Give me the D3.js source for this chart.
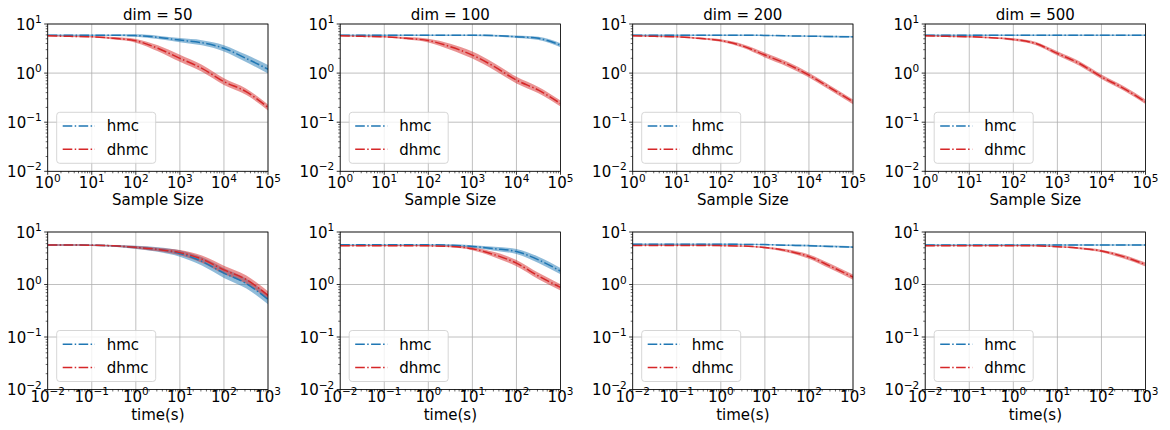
<!DOCTYPE html>
<html><head><meta charset="utf-8">
<script src="https://cdn.jsdelivr.net/npm/d3@7"></script>
<style>body{margin:0;background:#fff}svg{display:block}text{font-family:"DejaVu Sans",sans-serif;fill:#000}</style>
</head><body><svg id="c" width="1170" height="430"></svg>
<script>
// ---- data ----
const sampleSizes = [1, 3.162, 10, 31.62, 100, 316.2, 1000, 3162, 10000, 31623, 100000];
const times = [0.01, 0.03162, 0.1, 0.3162, 1, 3.162, 10, 31.62, 100, 316.2, 1000];
const dimTitles = ["dim = 50", "dim = 100", "dim = 200", "dim = 500"];
const seriesNames = ["hmc", "dhmc"];
const xTickExpTop = ["0", "1", "2", "3", "4", "5"];
const xTickExpBottom = ["\u22122", "\u22121", "0", "1", "2", "3"];
const yTickExp = ["\u22122", "\u22121", "0", "1"];

// error vs sample size (top row)
const hmcSample50   = [5.9, 5.9, 5.9, 5.9, 5.8, 5.35, 4.7, 4.15, 3.2, 2.0, 1.2];
const dhmcSample50  = [5.75, 5.6, 5.5, 5.1, 4.55, 3.2, 2.0, 1.25, 0.67, 0.42, 0.2];
const hmcSample100  = [5.9, 5.9, 5.9, 5.9, 5.9, 5.9, 5.9, 5.8, 5.5, 5.1, 3.7];
const dhmcSample100 = [5.75, 5.6, 5.5, 5.1, 4.6, 3.45, 2.33, 1.35, 0.72, 0.45, 0.24];
const hmcSample200  = [5.9, 5.9, 5.9, 5.9, 5.9, 5.9, 5.85, 5.75, 5.65, 5.55, 5.5];
const dhmcSample200 = [5.75, 5.6, 5.5, 5.1, 4.6, 3.56, 2.33, 1.53, 0.91, 0.49, 0.26];
const hmcSample500  = [5.9, 5.9, 5.9, 5.9, 5.9, 5.9, 5.9, 5.9, 5.9, 5.9, 5.9];
const dhmcSample500 = [5.75, 5.6, 5.5, 5.25, 4.86, 4.03, 2.52, 1.57, 0.84, 0.49, 0.26];
// error vs time (bottom row)
const hmcTime50   = [5.65, 5.65, 5.6, 5.45, 5.1, 4.65, 3.9, 2.75, 1.65, 1.05, 0.52];
const dhmcTime50  = [5.65, 5.65, 5.6, 5.45, 5.1, 4.65, 4.05, 3.05, 1.9, 1.25, 0.62];
const hmcTime100  = [5.7, 5.7, 5.7, 5.7, 5.7, 5.6, 5.3, 4.8, 4.25, 2.95, 1.8];
const dhmcTime100 = [5.5, 5.5, 5.5, 5.5, 5.45, 5.3, 4.8, 3.7, 2.55, 1.45, 0.88];
const hmcTime200  = [5.85, 5.85, 5.85, 5.85, 5.85, 5.8, 5.75, 5.6, 5.5, 5.3, 5.15];
const dhmcTime200 = [5.55, 5.55, 5.55, 5.55, 5.5, 5.4, 5.05, 4.4, 3.4, 2.2, 1.38];
const hmcTime500  = [5.65, 5.65, 5.65, 5.65, 5.65, 5.65, 5.65, 5.65, 5.65, 5.65, 5.65];
const dhmcTime500 = [5.5, 5.5, 5.5, 5.5, 5.5, 5.45, 5.25, 4.9, 4.35, 3.4, 2.4];

// relative half-width of the shaded spread
const spreadHmcSample50   = [0.03, 0.03, 0.03, 0.04, 0.06, 0.08, 0.1, 0.13, 0.16, 0.19, 0.22];
const spreadDhmcSample50  = [0.03, 0.03, 0.04, 0.06, 0.09, 0.15, 0.18, 0.18, 0.17, 0.16, 0.15];
const spreadHmcSample100  = [0.03, 0.03, 0.03, 0.03, 0.03, 0.03, 0.03, 0.04, 0.06, 0.08, 0.1];
const spreadDhmcSample100 = [0.03, 0.03, 0.04, 0.06, 0.09, 0.15, 0.18, 0.18, 0.17, 0.16, 0.15];
const spreadHmcSample200  = [0.03, 0.03, 0.03, 0.03, 0.03, 0.03, 0.03, 0.03, 0.03, 0.04, 0.04];
const spreadDhmcSample200 = [0.03, 0.03, 0.03, 0.04, 0.06, 0.09, 0.12, 0.12, 0.12, 0.12, 0.12];
const spreadHmcSample500  = [0.03, 0.03, 0.03, 0.03, 0.03, 0.03, 0.03, 0.03, 0.03, 0.03, 0.03];
const spreadDhmcSample500 = [0.03, 0.03, 0.03, 0.04, 0.06, 0.08, 0.1, 0.11, 0.11, 0.11, 0.11];
const spreadHmcTime50   = [0.03, 0.03, 0.03, 0.04, 0.07, 0.1, 0.15, 0.2, 0.24, 0.24, 0.24];
const spreadDhmcTime50  = [0.03, 0.03, 0.03, 0.04, 0.06, 0.08, 0.12, 0.17, 0.2, 0.2, 0.2];
const spreadHmcTime100  = [0.03, 0.03, 0.03, 0.03, 0.03, 0.04, 0.06, 0.09, 0.12, 0.15, 0.15];
const spreadDhmcTime100 = [0.03, 0.03, 0.03, 0.03, 0.03, 0.04, 0.07, 0.12, 0.15, 0.15, 0.15];
const spreadHmcTime200  = [0.03, 0.03, 0.03, 0.03, 0.03, 0.03, 0.03, 0.03, 0.04, 0.04, 0.04];
const spreadDhmcTime200 = [0.03, 0.03, 0.03, 0.03, 0.03, 0.03, 0.04, 0.07, 0.1, 0.12, 0.12];
const spreadHmcTime500  = [0.03, 0.03, 0.03, 0.03, 0.03, 0.03, 0.03, 0.03, 0.03, 0.03, 0.03];
const spreadDhmcTime500 = [0.03, 0.03, 0.03, 0.03, 0.03, 0.03, 0.03, 0.04, 0.06, 0.09, 0.09];

const colors = {hmc: "#1f77b4", dhmc: "#d62728"};

const panels = [
  {row:0,col:0,x:sampleSizes,hmc:hmcSample50,dhmc:dhmcSample50,sh:spreadHmcSample50,sd:spreadDhmcSample50},
  {row:0,col:1,x:sampleSizes,hmc:hmcSample100,dhmc:dhmcSample100,sh:spreadHmcSample100,sd:spreadDhmcSample100},
  {row:0,col:2,x:sampleSizes,hmc:hmcSample200,dhmc:dhmcSample200,sh:spreadHmcSample200,sd:spreadDhmcSample200},
  {row:0,col:3,x:sampleSizes,hmc:hmcSample500,dhmc:dhmcSample500,sh:spreadHmcSample500,sd:spreadDhmcSample500},
  {row:1,col:0,x:times,hmc:hmcTime50,dhmc:dhmcTime50,sh:spreadHmcTime50,sd:spreadDhmcTime50},
  {row:1,col:1,x:times,hmc:hmcTime100,dhmc:dhmcTime100,sh:spreadHmcTime100,sd:spreadDhmcTime100},
  {row:1,col:2,x:times,hmc:hmcTime200,dhmc:dhmcTime200,sh:spreadHmcTime200,sd:spreadDhmcTime200},
  {row:1,col:3,x:times,hmc:hmcTime500,dhmc:dhmcTime500,sh:spreadHmcTime500,sd:spreadDhmcTime500}
];

// ---- layout ----
const svg = d3.select("#c");
const lefts = [47.7, 340.2, 632.7, 925.2];
const pw = 220.3;
const rows = [
  {top:24, bottom:171.3, domain:[1,1e5], exps:xTickExpTop, xlabel:"Sample Size", tickBase:188, labelBase:205},
  {top:232, bottom:389.5, domain:[1e-2,1e3], exps:xTickExpBottom, xlabel:"time(s)", tickBase:401.5, labelBase:419.5}
];
const FS = 15, SUP = 10.5;

function supLabel(g, x, y, exp, anchor) {
  const t = g.append("text").attr("x", x).attr("y", y).attr("text-anchor", anchor).style("font-size", FS + "px");
  t.append("tspan").text("10");
  t.append("tspan").attr("dy", -6.5).style("font-size", SUP + "px").text(exp);
  return t;
}

panels.forEach((p, i) => {
  const R = rows[p.row];
  const L = lefts[p.col], Rr = L + pw;
  const x = d3.scaleLog().domain(R.domain).range([L, Rr]);
  const y = d3.scaleLog().domain([1e-2, 1e1]).range([R.bottom, R.top]);
  const g = svg.append("g");
  const xMajors = d3.range(Math.log10(R.domain[0]), Math.log10(R.domain[1]) + 1).map(e => Math.pow(10, e));
  const yMajors = [1e-2, 1e-1, 1, 10];
  // grid
  g.selectAll(".gx").data(xMajors).join("line")
    .attr("x1", d => x(d)).attr("x2", d => x(d)).attr("y1", R.top).attr("y2", R.bottom)
    .attr("stroke", "#b0b0b0").attr("stroke-width", 0.8);
  g.selectAll(".gy").data(yMajors).join("line")
    .attr("y1", d => y(d)).attr("y2", d => y(d)).attr("x1", L).attr("x2", Rr)
    .attr("stroke", "#b0b0b0").attr("stroke-width", 0.8);
  // clip
  const cid = "clip" + i;
  svg.append("clipPath").attr("id", cid).append("rect").attr("x", L).attr("y", R.top).attr("width", pw).attr("height", R.bottom - R.top);
  const plot = g.append("g").attr("clip-path", `url(#${cid})`);
  const defs = [
    {name:"hmc", vals:p.hmc, spread:p.sh},
    {name:"dhmc", vals:p.dhmc, spread:p.sd}
  ];
  defs.forEach(s => {
    const pts = p.x.map((xv, k) => ({x: xv, lo: s.vals[k] / (1 + s.spread[k]), hi: s.vals[k] * (1 + s.spread[k])}));
    plot.append("path").datum(pts)
      .attr("d", d3.area().x(d => x(d.x)).y0(d => y(d.lo)).y1(d => y(d.hi)).curve(d3.curveMonotoneX))
      .attr("fill", colors[s.name]).attr("fill-opacity", 0.5);
  });
  defs.forEach(s => {
    const pts = p.x.map((xv, k) => ({x: xv, v: s.vals[k]}));
    plot.append("path").datum(pts)
      .attr("d", d3.line().x(d => x(d.x)).y(d => y(d.v)).curve(d3.curveMonotoneX))
      .attr("fill", "none").attr("stroke", colors[s.name]).attr("stroke-width", 1.5)
      .attr("stroke-dasharray", "9.6,2.4,1.5,2.4");
  });
  // minor ticks
  const xMinor = [];
  xMajors.slice(0, -1).forEach(m => { for (let k = 2; k <= 9; k++) xMinor.push(m * k); });
  const yMinor = [];
  yMajors.slice(0, -1).forEach(m => { for (let k = 2; k <= 9; k++) yMinor.push(m * k); });
  g.selectAll(".mx").data(xMinor).join("line")
    .attr("x1", d => x(d)).attr("x2", d => x(d)).attr("y1", R.bottom).attr("y2", R.bottom + 2)
    .attr("stroke", "#000").attr("stroke-width", 0.6);
  g.selectAll(".my").data(yMinor).join("line")
    .attr("y1", d => y(d)).attr("y2", d => y(d)).attr("x1", L).attr("x2", L - 2)
    .attr("stroke", "#000").attr("stroke-width", 0.6);
  g.selectAll(".tx").data(xMajors).join("line")
    .attr("x1", d => x(d)).attr("x2", d => x(d)).attr("y1", R.bottom).attr("y2", R.bottom + 3.5)
    .attr("stroke", "#000").attr("stroke-width", 0.8);
  g.selectAll(".ty").data(yMajors).join("line")
    .attr("y1", d => y(d)).attr("y2", d => y(d)).attr("x1", L).attr("x2", L - 3.5)
    .attr("stroke", "#000").attr("stroke-width", 0.8);
  // frame
  g.append("rect").attr("x", L).attr("y", R.top).attr("width", pw).attr("height", R.bottom - R.top)
    .attr("fill", "none").attr("stroke", "#000").attr("stroke-width", 0.8);
  // tick labels
  xMajors.forEach((d, k) => supLabel(g, x(d), R.tickBase, R.exps[k], "middle"));
  yMajors.forEach((d, k) => supLabel(g, L - 6, y(d) + 5.5, yTickExp[k], "end"));
  // axis label
  g.append("text").attr("x", (L + Rr) / 2).attr("y", R.labelBase).attr("text-anchor", "middle")
    .style("font-size", FS + "px").text(R.xlabel);
  if (p.row === 0) {
    g.append("text").attr("x", (L + Rr) / 2).attr("y", 20).attr("text-anchor", "middle")
      .style("font-size", FS + "px").text(dimTitles[p.col]);
  }
  // legend
  const lx = L + 9, lw = 99, lh = 51, ly = R.bottom - 8 - lh;
  const lg = g.append("g");
  lg.append("rect").attr("x", lx).attr("y", ly).attr("width", lw).attr("height", lh).attr("rx", 3)
    .attr("fill", "#fff").attr("fill-opacity", 0.8).attr("stroke", "#ccc").attr("stroke-width", 0.8);
  seriesNames.forEach((n, k) => {
    const yy = ly + 13.7 + k * 23.3;
    lg.append("line").attr("x1", lx + 6).attr("x2", lx + 38).attr("y1", yy).attr("y2", yy)
      .attr("stroke", colors[n]).attr("stroke-width", 1.5).attr("stroke-dasharray", "9.6,2.4,1.5,2.4");
    lg.append("text").attr("x", lx + 50).attr("y", yy + 5.3).style("font-size", FS + "px").text(n);
  });
});
</script></body></html>
